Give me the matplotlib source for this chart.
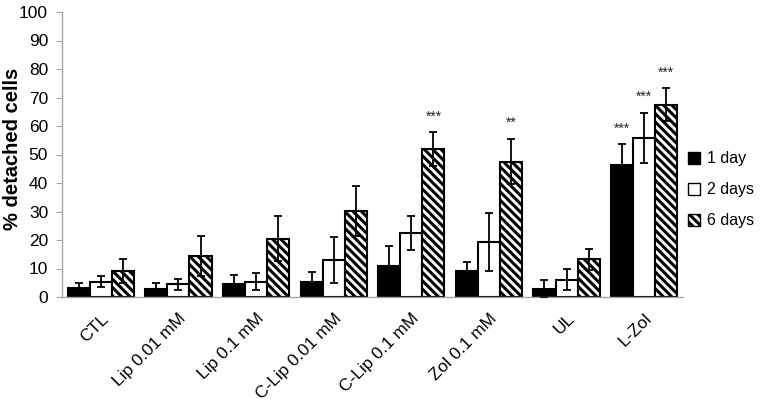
import matplotlib
matplotlib.use("Agg")
import matplotlib.pyplot as plt
import numpy as np
from matplotlib.patches import Patch

plt.rcParams['font.family'] = ['Liberation Sans', 'DejaVu Sans']
plt.rcParams['hatch.linewidth'] = 2.2
plt.rcParams['hatch.color'] = 'black'

categories = ["CTL", "Lip 0.01 mM", "Lip 0.1 mM", "C-Lip 0.01 mM", "C-Lip 0.1 mM",
              "Zol 0.1 mM", "UL", "L-Zol"]
series_names = ["1 day", "2 days", "6 days"]
day1 = [3.0, 2.7, 4.7, 5.3, 10.8, 9.2, 2.9, 46.4]
day1_err = [1.8, 2.1, 3.1, 3.6, 7.2, 3.1, 3.2, 7.2]
day2 = [5.4, 4.4, 5.4, 12.9, 22.5, 19.3, 6.1, 55.8]
day2_err = [1.9, 2.0, 3.0, 8.0, 6.0, 10.2, 3.8, 8.8]
day6 = [9.1, 14.5, 20.5, 30.1, 52.0, 47.5, 13.2, 67.5]
day6_err = [4.3, 7.0, 8.0, 8.8, 5.9, 8.0, 3.8, 5.8]
stars_day1 = ["", "", "", "", "", "", "", "***"]
stars_day2 = ["", "", "", "", "", "", "", "***"]
stars_day6 = ["", "", "", "", "***", "**", "", "***"]
yticks = [0, 10, 20, 30, 40, 50, 60, 70, 80, 90, 100]

fig = plt.figure(figsize=(7.6, 4.07), dpi=100)
ax = fig.add_axes([62/760, 1-297/407, (683-62)/760, (297-12)/407])

x = np.arange(len(categories))
w = 0.285
styles = [dict(color='black', edgecolor='black'),
          dict(color='white', edgecolor='black'),
          dict(color='white', edgecolor='black', hatch='\\\\\\\\')]
datas = [(day1, day1_err, stars_day1), (day2, day2_err, stars_day2), (day6, day6_err, stars_day6)]
handles = []
for i, ((vals, errs, stars), st) in enumerate(zip(datas, styles)):
    pos = x + (i - 1) * w
    ax.bar(pos, vals, w, linewidth=1.5, zorder=2, **st)
    ax.errorbar(pos, vals, yerr=errs, fmt='none', ecolor='black', elinewidth=1.3,
                capsize=3, capthick=1.3, zorder=3)
    for p, v, e, s in zip(pos, vals, errs, stars):
        if s:
            ax.text(p, v + e + 5.5, s, ha='center', va='center', fontsize=10, color='#222222')
    handles.append(Patch(facecolor=st['color'], edgecolor='black', hatch=st.get('hatch'),
                         linewidth=1.0, label=series_names[i]))

ax.set_xlim(-0.5, len(categories) - 0.5)
ax.set_ylim(0, 100)
ax.set_yticks(yticks)
ax.set_xticks(x)
ax.set_xticklabels(categories, rotation=45, ha='right', rotation_mode='anchor', fontsize=12.5)
ax.tick_params(axis='y', labelsize=12.5, length=4, color='#a6a6a6', pad=6)
ax.tick_params(axis='x', length=0, pad=10)
for s in ['top', 'right']:
    ax.spines[s].set_visible(False)
for s in ['left', 'bottom']:
    ax.spines[s].set_color('#a6a6a6')
    ax.spines[s].set_linewidth(1.0)
fig.text(13/760, 1-149/407, "% detached cells", rotation=90, ha='center', va='center',
         fontsize=14.5, fontweight='bold')

fig.legend(handles=handles, loc='upper left', bbox_to_anchor=(682/760, 1-145/407),
           frameon=False, fontsize=11.5, handlelength=0.75, handleheight=0.75,
           handletextpad=0.4, labelspacing=1.0, borderaxespad=0)

fig.savefig("out.png", dpi=100)
